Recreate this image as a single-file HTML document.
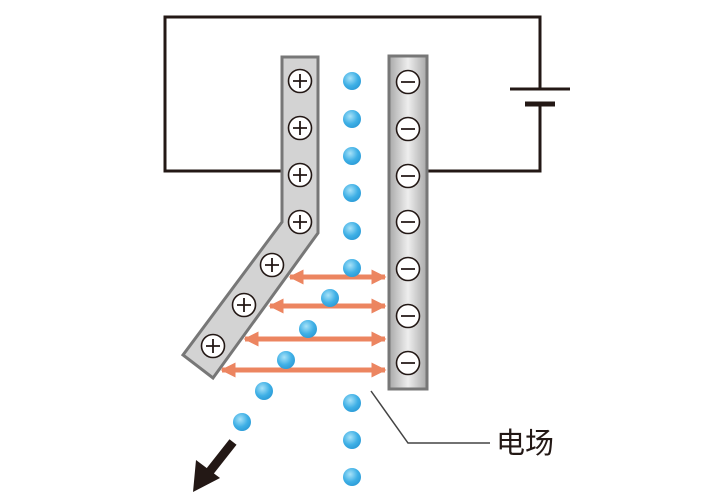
<!DOCTYPE html>
<html><head><meta charset="utf-8"><style>body{margin:0;background:#fff}svg{display:block}</style></head><body>
<svg width="720" height="500" viewBox="0 0 720 500" xmlns="http://www.w3.org/2000/svg">
<defs>
<linearGradient id="pg" x1="0" x2="1" y1="0" y2="0"><stop offset="0" stop-color="#a8a8a8"/><stop offset="0.5" stop-color="#eeeeee"/><stop offset="1" stop-color="#a8a8a8"/></linearGradient>
<linearGradient id="lg" x1="0" x2="1" y1="0" y2="0"><stop offset="0" stop-color="#b0b0b0"/><stop offset="0.5" stop-color="#e8e8e8"/><stop offset="1" stop-color="#b0b0b0"/></linearGradient>
<radialGradient id="dg" cx="0.4" cy="0.35" r="0.7"><stop offset="0" stop-color="#a8e2f8"/><stop offset="0.6" stop-color="#3fb0e6"/><stop offset="1" stop-color="#2a9ad6"/></radialGradient>
<marker id="ah" viewBox="0 0 10 10" refX="9" refY="5" markerWidth="3.6" markerHeight="3" orient="auto-start-reverse"><path d="M0,0L10,5L0,10z" fill="#ec8560"/></marker>
</defs>
<g stroke="#231815" stroke-width="3" fill="none">
<path d="M282,171H165V17H540V88"/>
<path d="M427,171H540V105"/>
<path d="M510,89H570"/>
</g>
<path d="M525,104H555" stroke="#231815" stroke-width="5"/>
<path d="M282,57H318V233L213,378L183,355L282,222Z" fill="#d3d3d3" stroke="#777" stroke-width="3"/>
<rect x="389" y="56" width="38" height="333" fill="url(#pg)" stroke="#777" stroke-width="3"/>
<g fill="#fff" stroke="#231815" stroke-width="1.6">
<circle cx="300" cy="81" r="11.5"/><circle cx="300" cy="128" r="11.5"/><circle cx="300" cy="175" r="11.5"/><circle cx="300" cy="222" r="11.5"/>
<circle cx="272" cy="265" r="11.5"/><circle cx="244" cy="305" r="11.5"/><circle cx="213" cy="346" r="11.5"/>
<circle cx="408" cy="82" r="11.5"/><circle cx="408" cy="129" r="11.5"/><circle cx="408" cy="176" r="11.5"/><circle cx="408" cy="222" r="11.5"/><circle cx="408" cy="269" r="11.5"/><circle cx="408" cy="316" r="11.5"/><circle cx="408" cy="363" r="11.5"/>
</g>
<g stroke="#231815" stroke-width="1.8">
<path d="M293,81h14M300,74v14M293,128h14M300,121v14M293,175h14M300,168v14M293,222h14M300,215v14M265,265h14M272,258v14M237,305h14M244,298v14M206,346h14M213,339v14"/>
<path d="M401,82h14M401,129h14M401,176h14M401,222h14M401,269h14M401,316h14M401,363h14"/>
</g>
<g stroke="#ec8560" stroke-width="5" marker-start="url(#ah)" marker-end="url(#ah)">
<path d="M290,277H385"/><path d="M270,306H385"/><path d="M245,339H385"/><path d="M222,370H385"/>
</g>
<g fill="url(#dg)">
<circle cx="352" cy="81" r="9"/><circle cx="352" cy="119" r="9"/><circle cx="352" cy="156" r="9"/><circle cx="352" cy="193" r="9"/><circle cx="352" cy="231" r="9"/><circle cx="352" cy="268" r="9"/>
<circle cx="352" cy="403" r="9"/><circle cx="352" cy="440" r="9"/><circle cx="352" cy="477" r="9"/>
<circle cx="330" cy="298" r="9"/><circle cx="308" cy="329" r="9"/><circle cx="286" cy="360" r="9"/><circle cx="264" cy="391" r="9"/><circle cx="242" cy="422" r="9"/>
</g>
<path d="M371,391L408,443H490" stroke="#444" stroke-width="1.5" fill="none"/>
<text x="496" y="453" font-family="Liberation Sans, Noto Sans CJK SC, sans-serif" font-size="29" fill="#231815">电场</text>
<path d="M233,442L207,475" stroke="#231815" stroke-width="9"/>
<path d="M193,492L196,460L220,478Z" fill="#231815"/>
</svg>
</body></html>
